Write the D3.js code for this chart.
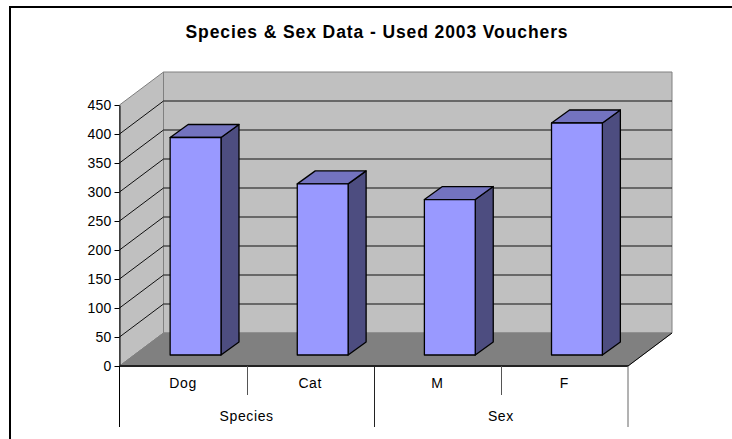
<!DOCTYPE html>
<html>
<head>
<meta charset="utf-8">
<script src="https://d3js.org/d3.v7.min.js"></script>
<style>
  html, body { margin: 0; padding: 0; background: #fff; overflow: hidden; }
  svg { display: block; }
  text { font-family: "Liberation Sans", Arial, sans-serif; fill: #000; }
</style>
</head>
<body>
<svg width="732" height="439"></svg>
<script>
var categories = ["Dog", "Cat", "M", "F"];
var groups = ["Species", "Sex"];
var values = [375, 295, 268, 400];
var yTicks = [0, 50, 100, 150, 200, 250, 300, 350, 400, 450];
var chartTitle = "Species & Sex Data - Used 2003 Vouchers";

var svg = d3.select("svg");

// depth of the 3d box, and how far the bars sit inside it
var depthX = 44, depthY = -33;
var barShiftX = 12.5, barShiftY = -11;
var barDepthX = 18, barDepthY = -13;

var x = d3.scaleBand().domain(categories).range([119.5, 628]);
var xGroup = d3.scaleBand().domain(groups).range([119.5, 628]);
var y = d3.scaleLinear().domain([0, 450]).range([366, 105]);
var barW = x.bandwidth() * 0.4;

// frame, only top and left fall inside the picture
svg.append("path")
  .attr("d", "M10,439V7H732")
  .attr("fill", "none")
  .attr("stroke", "#000")
  .attr("stroke-width", 2);

svg.append("text")
  .attr("x", 377)
  .attr("y", 38)
  .attr("text-anchor", "middle")
  .style("font", "bold 17.5px 'Liberation Sans'")
  .style("letter-spacing", "0.9px")
  .text(chartTitle);

var x0 = x.range()[0], x1 = x.range()[1];
var poly = function(pts) { return pts.map(function(p) { return p.join(","); }).join(" "); };

// left wall
svg.append("polygon")
  .attr("points", poly([[x0, y(0)], [x0, y(450)], [x0 + depthX, y(450) + depthY], [x0 + depthX, y(0) + depthY]]))
  .attr("fill", "#c0c0c0").attr("stroke", "#808080");
// back wall
svg.append("polygon")
  .attr("points", poly([[x0 + depthX, y(0) + depthY], [x0 + depthX, y(450) + depthY], [x1 + depthX, y(450) + depthY], [x1 + depthX, y(0) + depthY]]))
  .attr("fill", "#c0c0c0").attr("stroke", "#808080");

// gridlines run along the left wall and then across the back
svg.append("g").selectAll("path").data(yTicks.filter(function(d) { return d > 0 && d < 450; }))
  .enter().append("path")
  .attr("d", function(d) {
    return "M" + x0 + "," + y(d) + "L" + (x0 + depthX) + "," + (y(d) + depthY) + "H" + (x1 + depthX);
  })
  .attr("fill", "none")
  .attr("stroke", "#111")
  .attr("stroke-width", 1);

// floor
svg.append("polygon")
  .attr("points", poly([[x0, y(0)], [x0 + depthX, y(0) + depthY], [x1 + depthX, y(0) + depthY], [x1, y(0)]]))
  .attr("fill", "#808080").attr("stroke", "#808080");
svg.append("path")
  .attr("d", "M" + x1 + "," + y(0) + "L" + (x1 + depthX) + "," + (y(0) + depthY))
  .attr("stroke", "#000");

// bars: side, top, front
var bars = svg.append("g").selectAll("g").data(values).enter().append("g")
  .attr("stroke", "#000").attr("stroke-width", 1.3).attr("stroke-linejoin", "round");
var left = function(d, i) { return x(categories[i]) + x.bandwidth() / 2 - barW / 2 + barShiftX; };
var base = y(0) + barShiftY;
var top_ = function(d) { return y(d) + barShiftY; };

bars.append("polygon")
  .attr("fill", "#4d4d80")
  .attr("points", function(d, i) {
    var r = left(d, i) + barW;
    return poly([[r, base], [r, top_(d)], [r + barDepthX, top_(d) + barDepthY], [r + barDepthX, base + barDepthY]]);
  });
bars.append("polygon")
  .attr("fill", "#7373bf")
  .attr("points", function(d, i) {
    var l = left(d, i), t = top_(d);
    return poly([[l, t], [l + barDepthX, t + barDepthY], [l + barW + barDepthX, t + barDepthY], [l + barW, t]]);
  });
bars.append("rect")
  .attr("fill", "#9999ff")
  .attr("x", left)
  .attr("y", top_)
  .attr("width", barW)
  .attr("height", function(d) { return base - top_(d); });

// value axis
var yAxis = svg.append("g")
  .attr("transform", "translate(" + x0 + ",0)")
  .call(d3.axisLeft(y).tickValues(yTicks).tickSize(5).tickPadding(3).tickSizeOuter(0));
yAxis.selectAll("text").style("font", "14px 'Liberation Sans'").style("letter-spacing", "0.2px");
yAxis.selectAll("line, path").attr("stroke", "#000");

// category axis with the two level labels
svg.append("line")
  .attr("x1", x0).attr("x2", x1).attr("y1", y(0)).attr("y2", y(0))
  .attr("stroke", "#222").attr("stroke-width", 2);

svg.append("g").selectAll("text").data(categories).enter().append("text")
  .attr("x", function(d) { return x(d) + x.bandwidth() / 2; })
  .attr("y", 388)
  .attr("text-anchor", "middle")
  .style("font-size", "14px")
  .style("letter-spacing", "0.6px")
  .text(function(d) { return d; });

svg.append("g").selectAll("text").data(groups).enter().append("text")
  .attr("x", function(d) { return xGroup(d) + xGroup.bandwidth() / 2; })
  .attr("y", 421)
  .attr("text-anchor", "middle")
  .style("font-size", "14px")
  .style("letter-spacing", "0.6px")
  .text(function(d) { return d; });

// separators: short between categories, long between groups
svg.append("g").selectAll("line").data(categories.slice(1)).enter().append("line")
  .attr("x1", function(d) { return Math.round(x(d)) + 0.5; })
  .attr("x2", function(d) { return Math.round(x(d)) + 0.5; })
  .attr("y1", y(0))
  .attr("y2", function(d, i) { return i == 1 ? 427 : 395; })
  .attr("stroke", function(d, i) { return i == 1 ? "#222" : "#555"; });
svg.append("path")
  .attr("d", "M" + x0 + "," + y(0) + "V427")
  .attr("stroke", "#000");
svg.append("path")
  .attr("d", "M" + x1 + "," + y(0) + "V427")
  .attr("stroke", "#666");
</script>
</body>
</html>
